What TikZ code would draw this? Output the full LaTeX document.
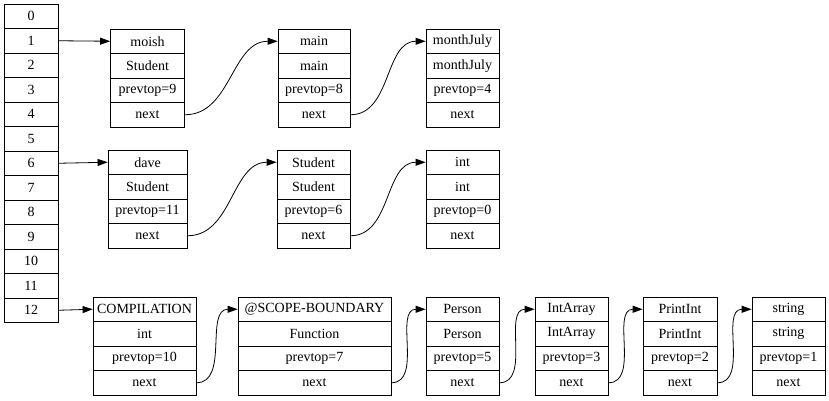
\documentclass[tikz,border=0pt]{standalone}
\usepackage{fontspec}
\setmainfont{Liberation Serif}
\usetikzlibrary{arrows.meta}

\tikzset{
  cell/.style={draw, line width=0.8pt, minimum height=24.5pt, inner sep=0pt,
    font=\fontsize{14}{16}\selectfont},
  link/.style={line width=0.8pt, -{Triangle[length=10pt,width=7pt]}}
}

\begin{document}
\begin{tikzpicture}[x=1pt,y=-1pt]
\useasboundingbox (0,0) rectangle (829,400);

% symbol table
\foreach \i in {0,...,12}
   \node[cell, minimum width=54pt] (sym\i) at (31,16.25+24.5*\i) {\i};

% scope records
\foreach \nm/\x/\y/\w/\a/\b/\c in {
    moish/147.5/29/74/moish/Student/prevtop=9,
    main/314/29/72/main/main/prevtop=8,
    july/462.5/29/73/monthJuly/monthJuly/prevtop=4,
    dave/147.5/150/79/dave/Student/prevtop=11,
    stud/313.5/150/73/Student/Student/prevtop=6,
    int/462.5/150/73/int/int/prevtop=0,
    comp/144.5/297/103/COMPILATION/int/prevtop=10,
    scope/314.5/297/153/@SCOPE-BOUNDARY/Function/prevtop=7,
    person/462.5/297/73/Person/Person/prevtop=5,
    iarr/571.5/297/73/IntArray/IntArray/prevtop=3,
    pint/680/297/74/PrintInt/PrintInt/prevtop=2,
    str/788.5/297/73/string/string/prevtop=1}
  \foreach \t [count=\k] in {\a,\b,\c,next}
     \node[cell, minimum width=\w pt] (\nm-\k) at (\x,\y+24.5*\k-12.25) {\t};

% table entries
\draw[link] (sym1.east) -- (moish-1.west);
\draw[link] (sym6.east) -- (dave-1.west);
\draw[link] (sym12.east) -- (comp-1.west);

% next pointers
\draw[link] (moish-4.east) to[out=0,in=180] (main-1.west);
\draw[link] (main-4.east) to[out=0,in=180] (july-1.west);
\draw[link] (dave-4.east) to[out=0,in=180] (stud-1.west);
\draw[link] (stud-4.east) to[out=0,in=180] (int-1.west);
\draw[link] (comp-4.east) to[out=0,in=180] (scope-1.west);
\draw[link] (scope-4.east) to[out=0,in=180] (person-1.west);
\draw[link] (person-4.east) to[out=0,in=180] (iarr-1.west);
\draw[link] (iarr-4.east) to[out=0,in=180] (pint-1.west);
\draw[link] (pint-4.east) to[out=0,in=180] (str-1.west);

\end{tikzpicture}
\end{document}
